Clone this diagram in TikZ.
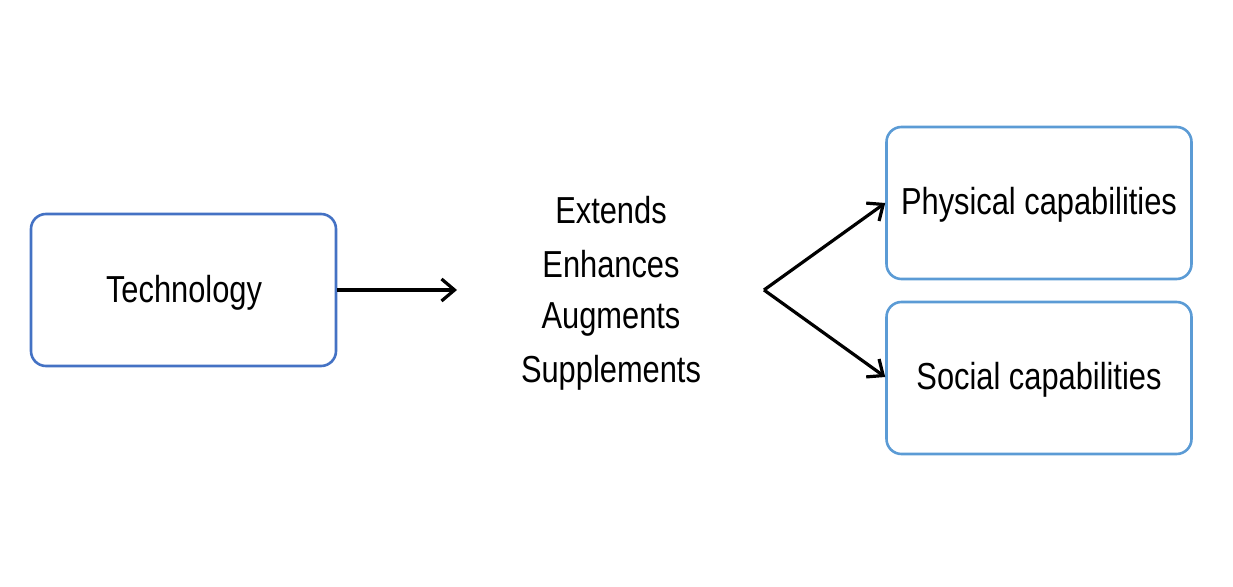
\documentclass[tikz,border=0pt]{standalone}
\usepackage{fontspec}
\setmainfont[FakeStretch=0.82]{Liberation Sans}
\usetikzlibrary{arrows.meta}
\definecolor{techblue}{HTML}{4472C4}
\definecolor{capblue}{HTML}{5B9BD5}
\tikzset{
  box/.style={draw, line width=1.3pt, rounded corners=7.5pt, minimum width=152.5pt, minimum height=76pt, inner sep=0pt},
  lbl/.style={font=\fontsize{18.8pt}{22pt}\selectfont, inner sep=0pt},
  conn/.style={line width=1.6pt, -{Straight Barb[length=6.5pt,width=11pt,line width=1.6pt]}}
}
\begin{document}
\begin{tikzpicture}[x=0.5pt,y=-0.5pt]
\useasboundingbox (0,0) rectangle (1233,587);
\node[box, draw=techblue] (tech) at (183.5,290) {};
\node[lbl] at (184,293) {Technology};
\node[box, draw=capblue] (phys) at (1039,203) {};
\node[lbl] at (1039,205) {Physical capabilities};
\node[box, draw=capblue] (soc) at (1039,378) {};
\node[lbl] at (1039,380) {Social capabilities};
\node[lbl] (t1) at (611,210) {Extends};
\node[lbl] (t2) at (611,264) {Enhances};
\node[lbl] (t3) at (611,319) {Augments};
\node[lbl] (t4) at (611,373) {Supplements};
\coordinate (mid) at (457,290);
\coordinate (fork) at (764,290);
\draw[conn] (tech.east) -- (mid);
\draw[conn] (fork) -- (phys.west |- 0,203);
\draw[conn] (fork) -- (soc.west |- 0,377);
\end{tikzpicture}
\end{document}
